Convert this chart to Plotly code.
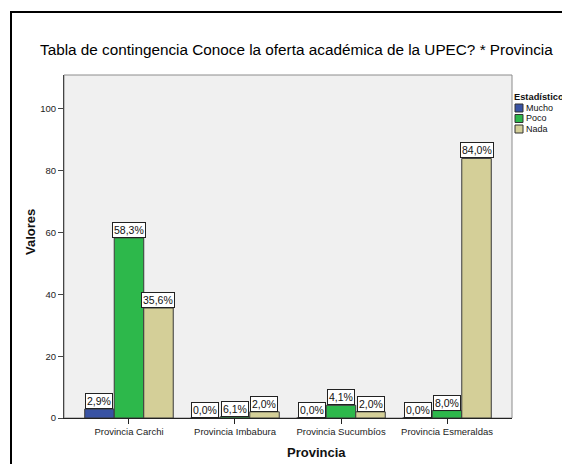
import plotly.graph_objects as go

provincias = ["Provincia Carchi", "Provincia Imbabura", "Provincia Sucumbíos", "Provincia Esmeraldas"]
series = ["Mucho", "Poco", "Nada"]
colores = ["#3953a4", "#2db84b", "#d4cf98"]

# bar heights as drawn in the picture
mucho = [2.9, 0.0, 0.0, 0.0]
poco = [58.3, 0.4, 4.1, 2.4]
nada = [35.6, 2.0, 2.0, 84.0]

# label texts as printed on the picture
mucho_txt = ["2,9%", "0,0%", "0,0%", "0,0%"]
poco_txt = ["58,3%", "6,1%", "4,1%", "8,0%"]
nada_txt = ["35,6%", "2,0%", "2,0%", "84,0%"]

valores = [mucho, poco, nada]
textos = [mucho_txt, poco_txt, nada_txt]

# the page body has an 8px margin, so the figure is placed at (8, 8)
OFF = 8
W, H = 570 - OFF, 464 - OFF
L, R, T, B = 64 - OFF, 58, 75 - OFF, 46
PW, PH = W - L - R, H - T - B


def px_x(px):
    return (px - OFF - L) / PW


def px_y(py):
    return (H - B - (py - OFF)) / PH


FONT = "Liberation Sans, Arial, sans-serif"

fig = go.Figure()
for nombre, color, vals in zip(series, colores, valores):
    fig.add_trace(go.Bar(
        x=provincias, y=vals, name=nombre,
        marker=dict(color=color, line=dict(color="#3a3a3a", width=1)),
        showlegend=False,
    ))

annotations = []
for j, txts in enumerate(textos):
    for i, t in enumerate(txts):
        annotations.append(dict(
            x=provincias[i], y=valores[j][i], xref="x", yref="y",
            text=t, showarrow=False, xshift=(j - 1) * 29.5, yanchor="bottom",
            font=dict(family=FONT, size=10.5, color="#111"),
            bgcolor="white", bordercolor="#222", borderwidth=1, borderpad=1,
        ))

# legend drawn by hand to get the compact SPSS spacing
annotations.append(dict(
    x=px_x(512), y=px_y(97), xref="paper", yref="paper", text="<b>Estadístico</b>",
    showarrow=False, xanchor="left", yanchor="middle",
    font=dict(family=FONT, size=9.3, color="#111"),
))
shapes = []
for k, (nombre, color) in enumerate(zip(series, colores)):
    yc = 108 + k * 10.5
    shapes.append(dict(
        type="rect", xref="paper", yref="paper",
        x0=px_x(515), x1=px_x(523), y0=px_y(yc + 4), y1=px_y(yc - 4),
        fillcolor=color, line=dict(color="#333", width=1),
    ))
    annotations.append(dict(
        x=px_x(524), y=px_y(yc), xref="paper", yref="paper", text=nombre,
        showarrow=False, xanchor="left", yanchor="middle",
        font=dict(family=FONT, size=9, color="#111"),
    ))

annotations.append(dict(
    x=px_x(296), y=px_y(50), xref="paper", yref="paper",
    text="Tabla de contingencia Conoce la oferta académica de la UPEC? * Provincia",
    showarrow=False, xanchor="center", yanchor="middle",
    font=dict(family=FONT, size=15.3, color="#000"),
))
annotations.append(dict(
    x=px_x(316), y=px_y(452), xref="paper", yref="paper", text="<b>Provincia</b>",
    showarrow=False, xanchor="center", yanchor="middle",
    font=dict(family=FONT, size=13, color="#111"),
))
annotations.append(dict(
    x=px_x(30), y=px_y(232), xref="paper", yref="paper", text="<b>Valores</b>",
    showarrow=False, textangle=-90, xanchor="center", yanchor="middle",
    font=dict(family=FONT, size=13, color="#111"),
))

# plot frame and outer box
shapes.append(dict(type="rect", xref="paper", yref="paper", x0=0, x1=1, y0=0, y1=1,
                   line=dict(color="#8c8c8c", width=1), layer="below"))
shapes.append(dict(type="rect", xref="paper", yref="paper",
                   x0=px_x(11), x1=px_x(600), y0=px_y(500), y1=px_y(12),
                   line=dict(color="#000", width=2)))

fig.update_layout(
    width=W, height=H,
    margin=dict(l=L, r=R, t=T, b=B),
    barmode="group", bargap=0.165, bargroupgap=0,
    plot_bgcolor="#f0f0f0", paper_bgcolor="white",
    font=dict(family=FONT, size=9.5, color="#222"),
    annotations=annotations, shapes=shapes,
)
fig.update_xaxes(
    range=[-0.613, 3.613], showline=True, linecolor="#222", linewidth=1,
    ticks="outside", ticklen=5, tickcolor="#222", showgrid=False,
    tickfont=dict(family=FONT, size=9.5, color="#222"),
)
fig.update_yaxes(
    range=[0, 111], tickvals=[0, 20, 40, 60, 80, 100], showline=True,
    linecolor="#444", linewidth=1, ticks="outside", ticklen=5, tickcolor="#444",
    showgrid=False, zeroline=False, tickfont=dict(family=FONT, size=9.5, color="#222"),
)

fig.write_html("out.html")
